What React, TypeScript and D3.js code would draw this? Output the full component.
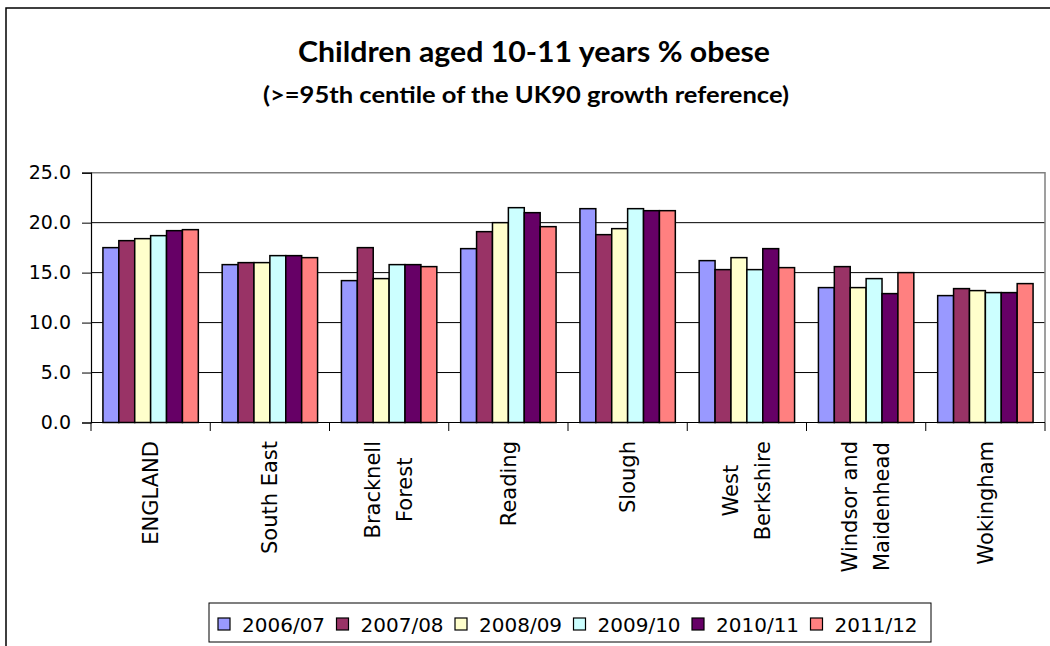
import React, { useEffect, useRef } from "react";
import * as d3 from "d3";

const categories = ["ENGLAND", "South East", "Bracknell Forest", "Reading", "Slough", "West Berkshire", "Windsor and Maidenhead", "Wokingham"];
const categoryLines = [["ENGLAND"], ["South East"], ["Bracknell", "Forest"], ["Reading"], ["Slough"], ["West", "Berkshire"], ["Windsor and", "Maidenhead"], ["Wokingham"]];
const seriesNames = ["2006/07", "2007/08", "2008/09", "2009/10", "2010/11", "2011/12"];
const seriesColors = ["#9999FF", "#993366", "#FFFFCC", "#CCFFFF", "#660066", "#FF8080"];
const v200607 = [17.5, 15.8, 14.2, 17.4, 21.4, 16.2, 13.5, 12.7];
const v200708 = [18.2, 16.0, 17.5, 19.1, 18.8, 15.3, 15.6, 13.4];
const v200809 = [18.4, 16.0, 14.4, 20.0, 19.4, 16.5, 13.5, 13.2];
const v200910 = [18.7, 16.7, 15.8, 21.5, 21.4, 15.3, 14.4, 13.0];
const v201011 = [19.2, 16.7, 15.8, 21.0, 21.2, 17.4, 12.9, 13.0];
const v201112 = [19.3, 16.5, 15.6, 19.6, 21.2, 15.5, 15.0, 13.9];
const seriesValues = [v200607, v200708, v200809, v200910, v201011, v201112];
const yTicks = [0, 5, 10, 15, 20, 25];
const titleText = "Children aged 10-11 years % obese";
const subtitleText = "(>=95th centile of the UK90 growth reference)";

export default function App() {
  const ref = useRef<SVGSVGElement | null>(null);

  useEffect(() => {
    const svg = d3.select(ref.current);
    svg.selectAll("*").remove();
    const W = 1050, H = 646;
    const left = 91, right = 1045, top = 172.7, bottom = 422.5;

    svg.append("rect").attr("x", 0).attr("y", 0).attr("width", W).attr("height", H).attr("fill", "#fff");

    // outer chart border
    svg.append("path").attr("d", `M6,${H} L6,8 L${W},8`).attr("fill", "none").attr("stroke", "#000").attr("stroke-width", 1.5);

    // titles
    svg.append("text").attr("x", 534).attr("y", 62).attr("text-anchor", "middle")
      .attr("font-family", "Lato, 'Open Sans', sans-serif").attr("font-weight", 700).attr("font-size", 28)
      .attr("textLength", 472).attr("lengthAdjust", "spacingAndGlyphs").text(titleText);
    svg.append("text").attr("x", 526).attr("y", 103).attr("text-anchor", "middle")
      .attr("font-family", "Lato, 'Open Sans', sans-serif").attr("font-weight", 700).attr("font-size", 23)
      .attr("textLength", 526).attr("lengthAdjust", "spacingAndGlyphs").text(subtitleText);

    const y = d3.scaleLinear().domain([0, 25]).range([bottom, top]);
    const x = d3.scaleBand<string>().domain(categories).range([left, right]).paddingInner(0).paddingOuter(0);
    const bw = x.bandwidth() / 7.5;
    const xs = d3.scaleBand<string>().domain(seriesNames).range([0, bw * 6]);
    const off = (x.bandwidth() - bw * 6) / 2;

    // gridlines
    svg.append("g").selectAll("line").data(yTicks.filter(t => t > 0 && t < 25)).join("line")
      .attr("x1", left).attr("x2", right).attr("y1", d => y(d)).attr("y2", d => y(d))
      .attr("stroke", "#000").attr("stroke-width", 1);

    // plot border top/right
    svg.append("path").attr("d", `M${left},${top} L${right},${top} L${right},${bottom}`)
      .attr("fill", "none").attr("stroke", "#808080").attr("stroke-width", 1.5);

    // bars
    seriesValues.forEach((vals, si) => {
      svg.append("g").selectAll("rect").data(vals).join("rect")
        .attr("x", (d, i) => (x(categories[i]) as number) + off + (xs(seriesNames[si]) as number))
        .attr("y", d => y(d))
        .attr("width", xs.bandwidth())
        .attr("height", d => y(0) - y(d))
        .attr("fill", seriesColors[si])
        .attr("stroke", "#000").attr("stroke-width", 1.5);
    });

    // y axis
    const yAxis = svg.append("g").attr("transform", `translate(${left},0)`)
      .call(d3.axisLeft(y).tickValues(yTicks).tickSize(9).tickPadding(11).tickFormat(d3.format(".1f")) as any);
    yAxis.select(".domain").attr("stroke", "#000").attr("stroke-width", 1.2);
    yAxis.selectAll(".tick line").attr("stroke", "#000");
    yAxis.selectAll("text").attr("font-family", "'DejaVu Sans', sans-serif").attr("font-size", 19).attr("fill", "#000");

    // x axis line and ticks
    svg.append("line").attr("x1", left).attr("x2", right).attr("y1", bottom).attr("y2", bottom).attr("stroke", "#000").attr("stroke-width", 1.2);
    const bounds = categories.map(c => x(c) as number).concat([right]);
    svg.append("g").selectAll("line").data(bounds).join("line")
      .attr("x1", d => d).attr("x2", d => d).attr("y1", bottom).attr("y2", bottom + 8.5)
      .attr("stroke", "#000").attr("stroke-width", 1);

    // category labels
    const labelTop = 441;
    const lineGap = 32;
    categoryLines.forEach((lines, i) => {
      const cx = (x(categories[i]) as number) + x.bandwidth() / 2;
      const g = svg.append("g");
      const texts = lines.map((ln) => g.append("text")
        .attr("font-family", "'DejaVu Sans', sans-serif").attr("font-size", 21).attr("fill", "#000")
        .attr("text-anchor", "middle").attr("dy", "0.35em").text(ln));
      const lens = texts.map(t => (t.node() as SVGTextElement).getComputedTextLength());
      const maxLen = Math.max(...lens);
      const cy = labelTop + maxLen / 2;
      texts.forEach((t, j) => {
        const lx = cx + (j - (lines.length - 1) / 2) * lineGap;
        t.attr("transform", `translate(${lx},${cy}) rotate(-90)`);
      });
    });

    // legend
    const lg = svg.append("g");
    lg.append("rect").attr("x", 209).attr("y", 603).attr("width", 722).attr("height", 39)
      .attr("fill", "#fff").attr("stroke", "#000").attr("stroke-width", 1);
    seriesNames.forEach((s, i) => {
      const x0 = 218 + i * 118.5;
      lg.append("rect").attr("x", x0).attr("y", 618).attr("width", 12).attr("height", 12)
        .attr("fill", seriesColors[i]).attr("stroke", "#000").attr("stroke-width", 1.2);
      lg.append("text").attr("x", x0 + 24).attr("y", 631.5)
        .attr("font-family", "'DejaVu Sans', sans-serif").attr("font-size", 20).attr("fill", "#000").text(s);
    });
  }, []);

  return (
    <svg ref={ref} width={1050} height={646} style={{ position: "absolute", left: 0, top: 0, display: "block" }} />
  );
}
